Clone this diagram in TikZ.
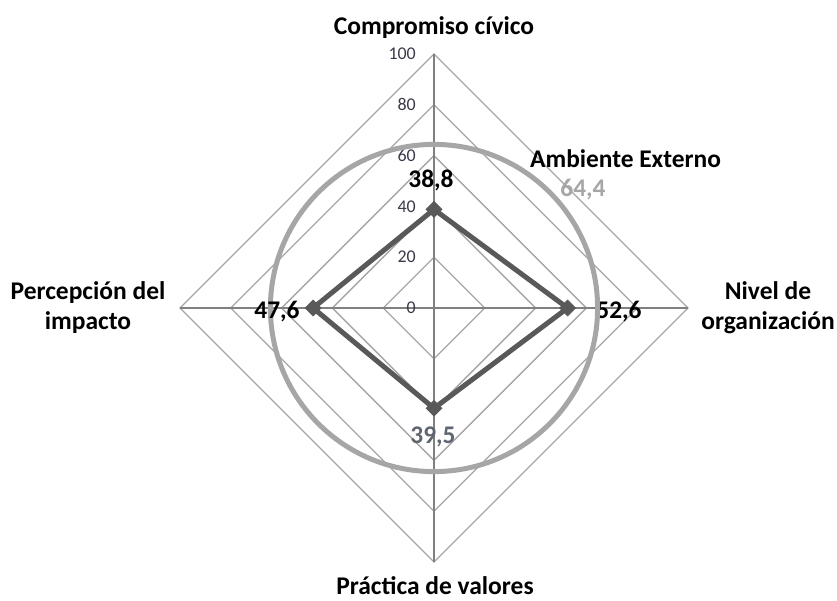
\documentclass[tikz,border=0pt]{standalone}
\usepackage{fontspec}
\setmainfont{Carlito}
\usetikzlibrary{shapes.geometric}
\definecolor{gridgray}{HTML}{A6A6A6}
\definecolor{axisgray}{HTML}{808080}
\definecolor{seriesgray}{HTML}{595959}
\definecolor{circlegray}{HTML}{A6A6A6}
\definecolor{ticktext}{HTML}{3A3A4A}
\definecolor{lightlabel}{HTML}{A6A6A6}
\definecolor{midlabel}{HTML}{5F6670}
\begin{document}
\begin{tikzpicture}[x=1bp,y=-1bp,
  gridline/.style={draw=gridgray,line width=1.3bp},
  axisline/.style={draw=axisgray,line width=1.3bp},
  ticklabel/.style={text=ticktext,font=\fontsize{18}{20}\selectfont,anchor=east,inner sep=0},
  axistitle/.style={font=\bfseries\fontsize{25.6}{30}\selectfont,align=center,inner sep=0,text=black},
  valuelabel/.style={font=\bfseries\fontsize{25.5}{28}\selectfont,inner sep=0},
  serieslink/.style={draw=seriesgray,line width=5bp,line join=round},
  marker/.style={diamond,fill=seriesgray,minimum size=17bp,inner sep=0},
  ringline/.style={draw=circlegray,line width=5bp}]
\useasboundingbox (0,0) rectangle (837,601);
\coordinate (O) at (434,308);
% grid diamonds
\foreach \k in {20,40,60,80,100}{
  \draw[gridline] (434,308-2.54*\k) -- (434+2.54*\k,308) -- (434,308+2.54*\k) -- (434-2.54*\k,308) -- cycle;
}
% axes
\coordinate (top) at (434,54);
\coordinate (bot) at (434,562);
\coordinate (lft) at (180,308);
\coordinate (rgt) at (688,308);
\draw[axisline] (top) -- (bot);
\draw[axisline] (lft) -- (rgt);
% tick labels
\foreach \k in {0,20,40,60,80,100}{
  \node[ticklabel] (t\k) at (416,308-2.54*\k) {\k};
}
% axis titles
\node[axistitle] (tCivico) at (434,28) {Compromiso cívico};
\node[axistitle] (tImpacto) at (88,308) {Percepción del\\impacto};
\node[axistitle] (tNivel) at (768,308) {Nivel de\\organización};
\node[axistitle,anchor=base] (tValores) at (435,594) {Práctica de valores};
% value labels under the ring
\node[valuelabel,text=black] (v1) at (431,180) {38,8};
\node[valuelabel,text=black] (v2) at (619,312) {52,6};
\node[valuelabel,text=midlabel] (v3) at (433,437) {39,5};
% ring
\draw[ringline] (O) circle (163.6);
\node[valuelabel,text=black] (v4) at (277,312) {47,6};
\node[valuelabel,text=black,anchor=west] (amb) at (530,159) {Ambiente Externo};
\node[valuelabel,text=lightlabel] (v5) at (583,190) {64,4};
% series
\node[marker] (p1) at (434,209.4) {};
\node[marker] (p2) at (567.6,308) {};
\node[marker] (p3) at (434,408.3) {};
\node[marker] (p4) at (313.1,308) {};
\draw[serieslink] (p1.center) -- (p2.center) -- (p3.center) -- (p4.center) -- cycle;
\end{tikzpicture}
\end{document}
